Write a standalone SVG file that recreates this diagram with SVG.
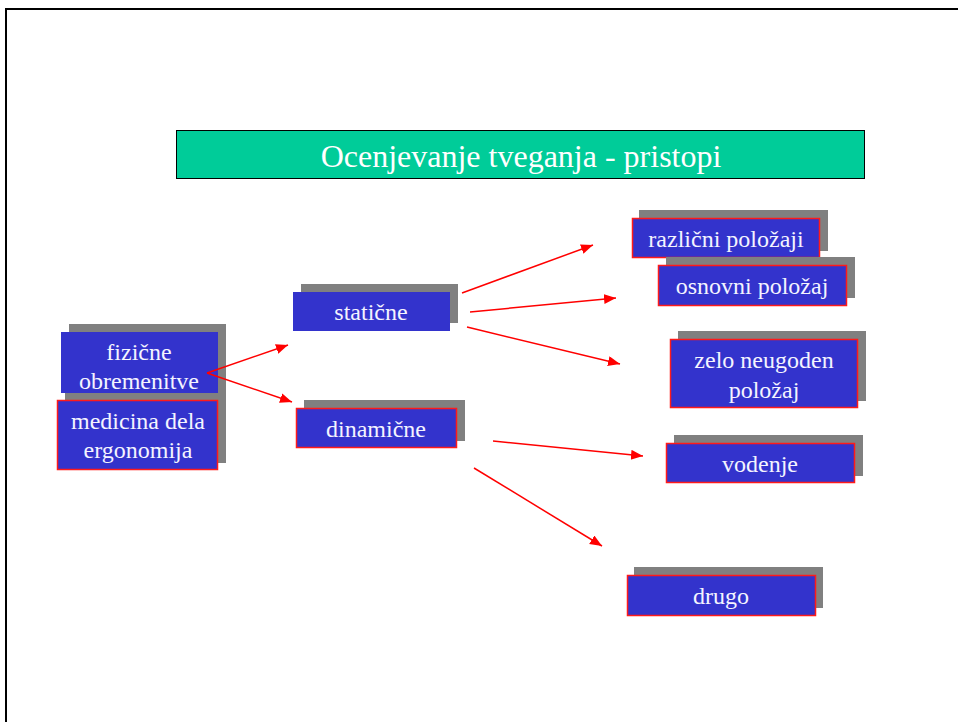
<svg xmlns="http://www.w3.org/2000/svg" width="958" height="722" viewBox="0 0 958 722">
  <style>
    .shadow { fill: #808080; }
    .box { fill: #3333CC; }
    .box.red { stroke: #FF1A1A; stroke-width: 1.5; }
    .label { font-family: "Liberation Serif", "Times New Roman", serif; font-size: 24px; fill: #F4F4FF; text-anchor: middle; }
    .title { font-family: "Liberation Serif", "Times New Roman", serif; font-size: 32px; fill: #FFFFFF; text-anchor: middle; }
    .conn { stroke: #FF0000; stroke-width: 1.5; fill: none; marker-end: url(#head); }
  </style>
  <defs>
    <marker id="head" markerUnits="userSpaceOnUse" markerWidth="13" markerHeight="11" refX="12" refY="5" orient="auto">
      <path d="M0,0 L12,5 L0,10 z" fill="#FF0000"/>
    </marker>
  </defs>

  <rect width="958" height="722" fill="#FFFFFF"/>
  <!-- page frame -->
  <path d="M6,722 V9 H958" fill="none" stroke="#000000" stroke-width="2"/>

  <!-- heading -->
  <g id="title">
    <rect x="176.5" y="130.5" width="688" height="48" fill="#00CC99" stroke="#000000" stroke-width="1"/>
    <text class="title" x="521" y="167">Ocenjevanje tveganja - pristopi</text>
  </g>

  <g id="fizicne">
    <rect class="shadow" x="69" y="324" width="157" height="69"/>
    <rect class="box" x="61" y="332" width="157" height="61"/>
    <text class="label" x="139" y="360">fizične</text>
    <text class="label" x="139" y="389">obremenitve</text>
  </g>

  <g id="medicina">
    <rect class="shadow" x="65" y="393" width="161" height="70"/>
    <rect class="box red" x="57.5" y="400.5" width="160" height="69"/>
    <text class="label" x="138" y="429">medicina dela</text>
    <text class="label" x="138" y="458">ergonomija</text>
  </g>

  <g id="staticne">
    <rect class="shadow" x="301" y="284" width="157" height="39"/>
    <rect class="box" x="293" y="292" width="157" height="39"/>
    <text class="label" x="371" y="320">statične</text>
  </g>

  <g id="dinamicne">
    <rect class="shadow" x="304" y="400" width="161" height="41"/>
    <rect class="box red" x="296.5" y="408.5" width="160" height="39"/>
    <text class="label" x="376" y="437">dinamične</text>
  </g>

  <g id="razlicni">
    <rect class="shadow" x="639" y="210" width="189" height="41"/>
    <rect class="box red" x="632.5" y="218.5" width="187" height="39"/>
    <text class="label" x="726" y="247">različni položaji</text>
  </g>

  <g id="osnovni">
    <rect class="shadow" x="666" y="257" width="189" height="41"/>
    <rect class="box red" x="658.5" y="265.5" width="188" height="40"/>
    <text class="label" x="752" y="294">osnovni položaj</text>
  </g>

  <g id="neugoden">
    <rect class="shadow" x="678" y="331" width="188" height="70"/>
    <rect class="box red" x="670.5" y="339.5" width="187" height="68"/>
    <text class="label" x="764" y="368">zelo neugoden</text>
    <text class="label" x="764" y="398">položaj</text>
  </g>

  <g id="vodenje">
    <rect class="shadow" x="674" y="435" width="189" height="41"/>
    <rect class="box red" x="666.5" y="443.5" width="188" height="39"/>
    <text class="label" x="760" y="472">vodenje</text>
  </g>

  <g id="drugo">
    <rect class="shadow" x="634" y="567" width="189" height="41"/>
    <rect class="box red" x="627.5" y="575.5" width="188" height="40"/>
    <text class="label" x="721" y="604">drugo</text>
  </g>

  <!-- arrows drawn last so they sit on top of the boxes -->
  <g id="connectors">
    <line class="conn" x1="207" y1="373" x2="288" y2="345"/>
    <line class="conn" x1="207" y1="373" x2="292" y2="402"/>
    <line class="conn" x1="462" y1="293" x2="593" y2="245"/>
    <line class="conn" x1="470" y1="312" x2="616" y2="298"/>
    <line class="conn" x1="467" y1="327" x2="620" y2="364"/>
    <line class="conn" x1="493" y1="441" x2="643" y2="456"/>
    <line class="conn" x1="474" y1="468" x2="602" y2="546"/>
  </g>
</svg>
